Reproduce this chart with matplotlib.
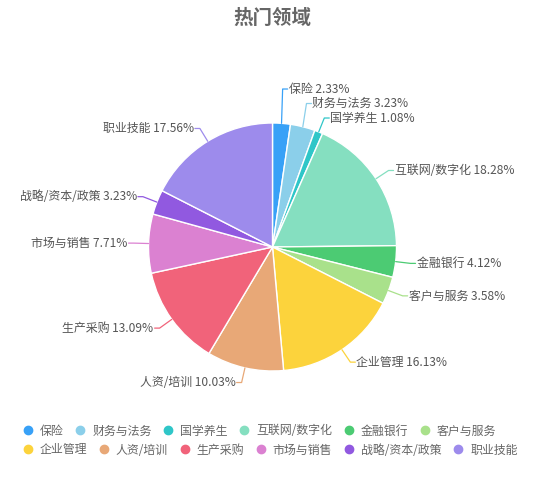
import matplotlib
matplotlib.use("Agg")
import matplotlib.pyplot as plt
from matplotlib.lines import Line2D
import numpy as np

plt.rcParams['font.family'] = ['Noto Sans CJK SC', 'DejaVu Sans']

categories = ['保险', '财务与法务', '国学养生', '互联网/数字化', '金融银行', '客户与服务',
              '企业管理', '人资/培训', '生产采购', '市场与销售', '战略/资本/政策', '职业技能']
percents = [2.33, 3.23, 1.08, 18.28, 4.12, 3.58, 16.13, 10.03, 13.09, 7.71, 3.23, 17.56]
colors = ['#38a1f7', '#8bcfea', '#2fc6c8', '#85dfc0', '#4ccb73', '#a9e18b',
          '#fcd33c', '#e8a877', '#f1637a', '#db81d1', '#9159e0', '#9d8bec']
title = '热门领域'

W, H = 550, 497
fig = plt.figure(figsize=(W / 100, H / 100), dpi=100)
ax = fig.add_axes([0, 0, 1, 1])

cx, cy, R = 272.5, H - 247, 124
wedges, _ = ax.pie(percents, colors=colors, startangle=90, counterclock=False,
                   center=(cx, cy), radius=R,
                   wedgeprops=dict(edgecolor='white', linewidth=1))
ax.set_xlim(0, W)
ax.set_ylim(0, H)
ax.set_aspect('equal')
ax.axis('off')

d1, d2 = 15, 5
fs = 8.6
items = []
for i, w in enumerate(wedges):
    mid = np.deg2rad((w.theta1 + w.theta2) / 2)
    ex, ey = cx + R * np.cos(mid), cy + R * np.sin(mid)
    rx, ry = cx + (R + d1) * np.cos(mid), cy + (R + d1) * np.sin(mid)
    side = 1 if np.cos(mid) >= 0 else -1
    items.append(dict(i=i, ex=ex, ey=ey, rx=rx, ry=ry, side=side))

gap = 14.5
for side in (1, -1):
    lst = sorted([it for it in items if it['side'] == side], key=lambda t: t['ry'])
    prev = None
    for it in lst:
        it['ly'] = it['ry']
        if prev is not None and it['ly'] < prev + gap:
            it['ly'] = prev + gap
        prev = it['ly']

for it in items:
    i = it['i']
    side = it['side']
    tx = it['rx'] + side * d2
    ax.plot([it['ex'], it['rx'], tx], [it['ey'], it['ly'], it['ly']],
            color=colors[i], lw=0.9, solid_capstyle='round')
    ax.text(tx + side * 1, it['ly'], f"{categories[i]} {percents[i]:.2f}%",
            ha='left' if side > 0 else 'right', va='center',
            fontsize=fs, color='#555555')

fig.text(cx / W, 1 - 18.5 / H, title, ha='center', va='center',
         fontsize=14, fontweight='bold', color='#666666')

def make_handles(idx):
    return [Line2D([], [], marker='o', linestyle='none', markersize=6,
                   markerfacecolor=colors[k], markeredgecolor=colors[k])
            for k in idx]

rows = [range(0, 6), range(6, 12)]
row_y = [431, 450]
legs = []
for r, yy in zip(rows, row_y):
    leg = fig.legend(make_handles(r), [categories[k] for k in r],
                     loc='center left', bbox_to_anchor=(23 / W, 1 - yy / H),
                     ncol=6, frameon=False, fontsize=fs, borderpad=0,
                     borderaxespad=0, handlelength=0.8, handletextpad=0.6,
                     columnspacing=1.0, labelcolor='#666666')
    legs.append(leg)

fig.savefig('out.png', dpi=100, facecolor='white')
